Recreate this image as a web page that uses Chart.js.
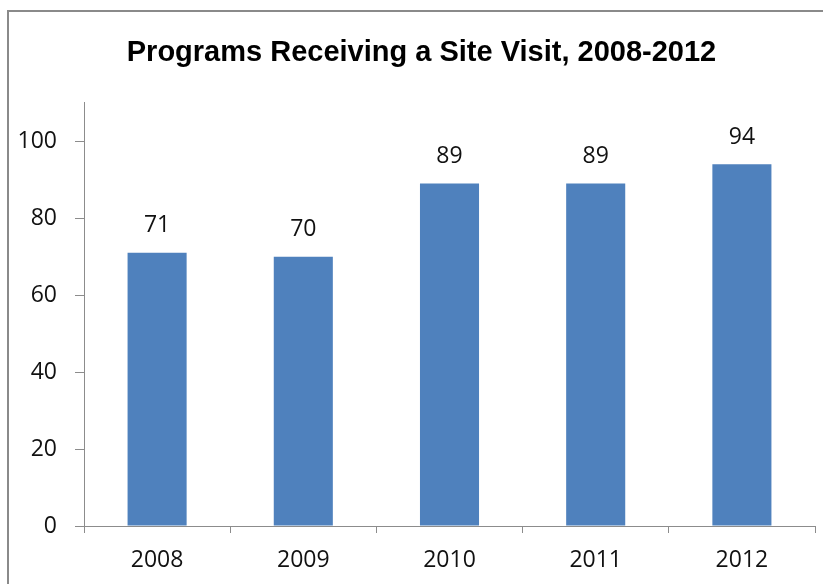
<!DOCTYPE html>
<html>
<head>
<meta charset="utf-8">
<script src="https://cdn.jsdelivr.net/npm/chart.js@4.4.1/dist/chart.umd.min.js"></script>
<style>
  html, body { margin: 0; padding: 0; background: #fff; }
  #wrap { position: relative; width: 823px; height: 584px; overflow: hidden; }
  #frame {
    position: absolute; left: 7px; top: 10px; width: 900px; height: 700px;
    border-top: 2px solid #8a8a8a; border-left: 2px solid #8a8a8a;
  }
  canvas { position: absolute; left: 0; top: 0; }
</style>
</head>
<body>
<div id="wrap">
  <div id="frame"></div>
  <canvas id="chart" width="823" height="584"></canvas>
</div>
<script>
// ── DATA ─────────────────────────────────────────
const YEARS   = ['2008', '2009', '2010', '2011', '2012'];
const VISITS  = [71, 70, 89, 89, 94];
const Y_TICKS = [0, 20, 40, 60, 80, 100];

const TITLE    = 'Programs Receiving a Site Visit, 2008-2012';
const BAR_BLUE = '#4f81bd';
const AXIS     = '#8c8c8c';
const LABEL_FONT = { family: "'Open Sans', 'Noto Sans', sans-serif", size: 23 };

// value labels above each bar
const barValues = {
  id: 'barValues',
  afterDatasetsDraw(chart) {
    const ctx = chart.ctx;
    const meta = chart.getDatasetMeta(0);
    ctx.save();
    ctx.font = `${LABEL_FONT.size}px ${LABEL_FONT.family}`;
    ctx.fillStyle = '#111';
    ctx.textAlign = 'center';
    ctx.textBaseline = 'middle';
    meta.data.forEach((bar, i) => {
      ctx.fillText(String(VISITS[i]), bar.x, bar.y - 27);
    });
    ctx.restore();
  }
};

// title in the original sits a bit right of the canvas centre
const titleShift = {
  id: 'titleShift',
  afterLayout(chart) {
    if (chart.titleBlock) chart.titleBlock.left += 14;
  }
};

new Chart(document.getElementById('chart'), {
  type: 'bar',
  data: {
    labels: YEARS,
    datasets: [{
      data: VISITS,
      backgroundColor: BAR_BLUE,
      borderWidth: 0,
      categoryPercentage: 1,
      barPercentage: 0.404
    }]
  },
  options: {
    responsive: false,
    animation: false,
    layout: { padding: { left: 14, right: 8, top: 0, bottom: 0 } },
    plugins: {
      legend: { display: false },
      tooltip: { enabled: false },
      title: {
        display: true,
        text: TITLE,
        color: '#000',
        font: { family: "'Liberation Sans', Arial, sans-serif", size: 29, weight: 'bold' },
        padding: { top: 36, bottom: 32 }
      }
    },
    scales: {
      x: {
        afterFit: scale => { scale.height = 58; },
        grid: { drawOnChartArea: false, tickLength: 7, color: AXIS, offset: true },
        border: { color: AXIS, width: 1 },
        ticks: { color: '#111', font: LABEL_FONT, padding: 14 }
      },
      y: {
        min: 0,
        max: 110,
        afterBuildTicks: scale => { scale.ticks = Y_TICKS.map(v => ({ value: v })); },
        afterFit: scale => { scale.width = 70; },
        grid: { drawOnChartArea: false, tickLength: 9, color: AXIS },
        border: { color: AXIS, width: 1 },
        ticks: { color: '#111', font: LABEL_FONT, padding: 18 }
      }
    }
  },
  plugins: [barValues, titleShift]
});
</script>
</body>
</html>
